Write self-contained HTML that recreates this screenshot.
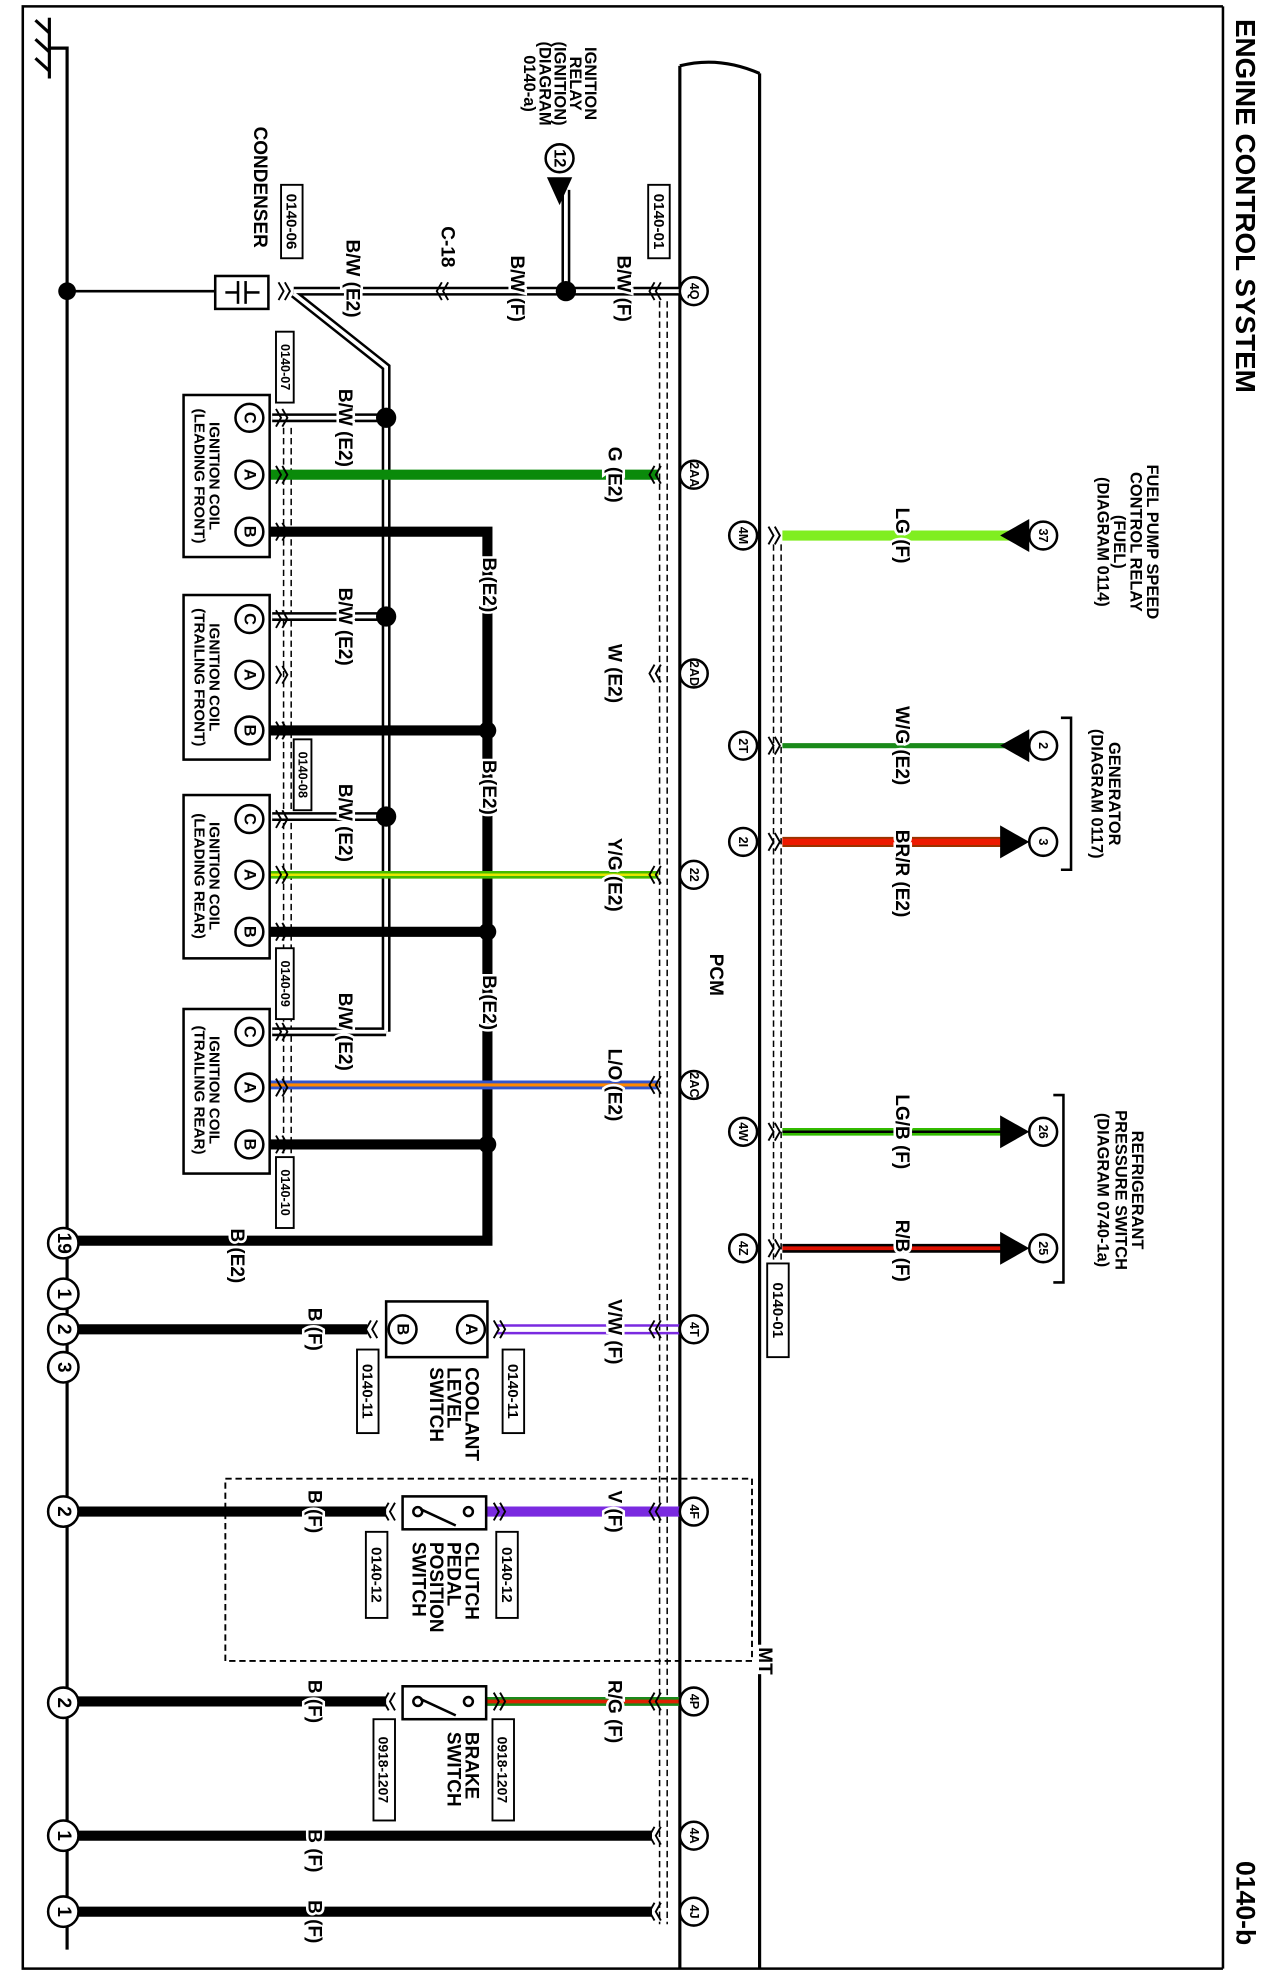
<!DOCTYPE html>
<html><head><meta charset="utf-8"><style>
html,body{margin:0;padding:0;background:#fff}
svg{display:block}
text{font-family:"Liberation Sans",Arial,sans-serif;font-weight:bold;fill:#000}
.l{font-size:15px;stroke:#fff;stroke-width:4px;paint-order:stroke}
.s{font-size:13px}
.p{font-size:10px}
</style></head><body>
<svg width="1266" height="1980" viewBox="0 0 1000 1564" preserveAspectRatio="none" xmlns="http://www.w3.org/2000/svg">
<defs>
<path id="cl" d="M5,-7 L1,0 L5,7 M10,-7 L6,0 L10,7" fill="none" stroke="#000" stroke-width="1.5"/>
<path id="cr" d="M0,-7 L4,0 L0,7 M5,-7 L9,0 L5,7" fill="none" stroke="#000" stroke-width="1.5"/>
</defs>
<!-- frame -->
<polyline points="966,5 18,5 18,1555 966,1555" fill="none" stroke="#000" stroke-width="2"/>
<line x1="966" y1="5" x2="966" y2="1555" stroke="#000" stroke-width="2"/>
<!-- ground -->
<g stroke="#000" stroke-width="2.5" fill="none">
<line x1="39" y1="14" x2="39" y2="62"/>
<polyline points="39,38 53,38 53,1540"/>
<line x1="28" y1="16" x2="39" y2="26"/><line x1="28" y1="31" x2="39" y2="41"/><line x1="28" y1="46" x2="39" y2="56"/>
</g>
<!-- PCM -->
<g stroke="#000" stroke-width="2.5" fill="none">
<path d="M537,52 Q568,44 600,58"/>
<line x1="537" y1="52" x2="537" y2="1555"/>
<line x1="600" y1="58" x2="600" y2="1555"/>
</g>
<g stroke="#000" stroke-width="1.2" stroke-dasharray="5,3" fill="none">
<line x1="521" y1="238" x2="521" y2="1520"/><line x1="527" y1="238" x2="527" y2="1520"/>
<line x1="611" y1="430" x2="611" y2="1000"/><line x1="617" y1="430" x2="617" y2="1000"/>
<line x1="224" y1="338" x2="224" y2="930"/><line x1="230" y1="338" x2="230" y2="930"/>
</g>
<text transform="translate(565,770) rotate(90)" text-anchor="middle" dominant-baseline="central" font-size="15">PCM</text>

<!-- top row -->
<line x1="53" y1="230" x2="170" y2="230" stroke="#000" stroke-width="2"/>
<circle cx="53" cy="230" r="7"/>
<rect x="170" y="218" width="42" height="26" fill="#fff" stroke="#000" stroke-width="2"/>
<g stroke="#000" stroke-width="2"><line x1="188" y1="222" x2="188" y2="240"/><line x1="194" y1="222" x2="194" y2="240"/><line x1="178" y1="231" x2="188" y2="231"/><line x1="194" y1="231" x2="205" y2="231"/></g>
<g fill="none" stroke="#000" stroke-width="7"><polyline points="232,230 540,230"/><polyline points="232,232 305,290 305,815"/>
<line x1="215" y1="330" x2="305" y2="330"/><line x1="215" y1="487" x2="305" y2="487"/><line x1="215" y1="645" x2="305" y2="645"/><line x1="215" y1="815" x2="305" y2="815"/>
<line x1="447" y1="150" x2="447" y2="230"/></g>
<g fill="none" stroke="#fff" stroke-width="3"><polyline points="232,230 540,230"/><polyline points="232,232 305,290 305,815"/>
<line x1="215" y1="330" x2="305" y2="330"/><line x1="215" y1="487" x2="305" y2="487"/><line x1="215" y1="645" x2="305" y2="645"/><line x1="215" y1="815" x2="305" y2="815"/>
<line x1="447" y1="150" x2="447" y2="226"/></g>
<circle cx="447" cy="230" r="8"/>
<circle cx="305" cy="330" r="8"/><circle cx="305" cy="487" r="8"/><circle cx="305" cy="645" r="8"/>
<polygon points="432,140 452,140 442,162"/>
<circle cx="442" cy="125" r="11" fill="#fff" stroke="#000" stroke-width="2"/>
<text transform="translate(442,125) rotate(90)" text-anchor="middle" dominant-baseline="central" class="s">12</text>

<!-- coil wires -->
<line x1="213" y1="375" x2="520" y2="375" stroke="#0a8a0a" stroke-width="8"/>
<g stroke="#000" stroke-width="8" fill="none">
<polyline points="213,420 385,420 385,980"/>
<line x1="213" y1="577" x2="385" y2="577"/><line x1="213" y1="736" x2="385" y2="736"/><line x1="213" y1="904" x2="385" y2="904"/>
<line x1="53" y1="980" x2="389" y2="980"/>
</g>
<circle cx="385" cy="577" r="7"/><circle cx="385" cy="736" r="7"/><circle cx="385" cy="904" r="7"/>
<line x1="213" y1="691" x2="520" y2="691" stroke="#44bb00" stroke-width="6"/>
<line x1="213" y1="691" x2="520" y2="691" stroke="#e6e600" stroke-width="2"/>
<line x1="213" y1="857" x2="520" y2="857" stroke="#3355cc" stroke-width="7"/>
<line x1="213" y1="857" x2="520" y2="857" stroke="#ff8800" stroke-width="2.5"/>

<!-- coil boxes -->
<g fill="#fff" stroke="#000" stroke-width="2">
<rect x="145" y="312" width="68" height="128"/><rect x="145" y="470" width="68" height="130"/>
<rect x="145" y="628" width="68" height="129"/><rect x="145" y="797" width="68" height="130"/>
</g>
<g fill="#fff" stroke="#000" stroke-width="2">
<circle cx="197" cy="330" r="11"/><circle cx="197" cy="375" r="11"/><circle cx="197" cy="420" r="11"/>
<circle cx="197" cy="489" r="11"/><circle cx="197" cy="533" r="11"/><circle cx="197" cy="577" r="11"/>
<circle cx="197" cy="647" r="11"/><circle cx="197" cy="691" r="11"/><circle cx="197" cy="736" r="11"/>
<circle cx="197" cy="815" r="11"/><circle cx="197" cy="859" r="11"/><circle cx="197" cy="904" r="11"/>
</g>
<g class="s" text-anchor="middle" dominant-baseline="central">
<text transform="translate(197,330) rotate(90)">C</text><text transform="translate(197,375) rotate(90)">A</text><text transform="translate(197,420) rotate(90)">B</text>
<text transform="translate(197,489) rotate(90)">C</text><text transform="translate(197,533) rotate(90)">A</text><text transform="translate(197,577) rotate(90)">B</text>
<text transform="translate(197,647) rotate(90)">C</text><text transform="translate(197,691) rotate(90)">A</text><text transform="translate(197,736) rotate(90)">B</text>
<text transform="translate(197,815) rotate(90)">C</text><text transform="translate(197,859) rotate(90)">A</text><text transform="translate(197,904) rotate(90)">B</text>
<text transform="translate(169,376) rotate(90)" font-size="12">IGNITION COIL</text><text transform="translate(157,376) rotate(90)" font-size="12">(LEADING FRONT)</text>
<text transform="translate(169,535) rotate(90)" font-size="12">IGNITION COIL</text><text transform="translate(157,535) rotate(90)" font-size="12">(TRAILING FRONT)</text>
<text transform="translate(169,692) rotate(90)" font-size="12">IGNITION COIL</text><text transform="translate(157,692) rotate(90)" font-size="12">(LEADING REAR)</text>
<text transform="translate(169,861) rotate(90)" font-size="12">IGNITION COIL</text><text transform="translate(157,861) rotate(90)" font-size="12">(TRAILING REAR)</text>
</g>

<!-- lower left rows -->
<g stroke="#000" stroke-width="8">
<line x1="53" y1="1050" x2="290" y2="1050"/><line x1="53" y1="1194" x2="305" y2="1194"/>
<line x1="53" y1="1344" x2="305" y2="1344"/><line x1="53" y1="1450" x2="515" y2="1450"/><line x1="53" y1="1510" x2="515" y2="1510"/>
</g>
<g stroke="#7a2ae0" stroke-width="2"><line x1="392" y1="1047" x2="540" y2="1047"/><line x1="392" y1="1053" x2="540" y2="1053"/></g>
<line x1="384" y1="1194" x2="540" y2="1194" stroke="#7a2ae0" stroke-width="8"/>
<line x1="384" y1="1344" x2="540" y2="1344" stroke="#1a8a1a" stroke-width="7"/>
<line x1="384" y1="1344" x2="540" y2="1344" stroke="#dd2200" stroke-width="3"/>
<rect x="305" y="1028" width="80" height="44" fill="#fff" stroke="#000" stroke-width="2"/>
<circle cx="318" cy="1050" r="11" fill="#fff" stroke="#000" stroke-width="2"/><circle cx="372" cy="1050" r="11" fill="#fff" stroke="#000" stroke-width="2"/>
<text transform="translate(318,1050) rotate(90)" text-anchor="middle" dominant-baseline="central" class="s">B</text>
<text transform="translate(372,1050) rotate(90)" text-anchor="middle" dominant-baseline="central" class="s">A</text>
<g fill="#fff" stroke="#000" stroke-width="2">
<rect x="318" y="1182" width="66" height="26"/><rect x="318" y="1332" width="66" height="26"/>
<circle cx="330" cy="1194" r="3.5"/><circle cx="370" cy="1194" r="3.5"/><circle cx="330" cy="1344" r="3.5"/><circle cx="370" cy="1344" r="3.5"/>
</g>
<g stroke="#000" stroke-width="2"><line x1="332" y1="1192" x2="360" y2="1205"/><line x1="332" y1="1342" x2="360" y2="1355"/></g>
<rect x="178" y="1168" width="416" height="144" fill="none" stroke="#000" stroke-width="1.5" stroke-dasharray="5,3"/>

<!-- connector chevrons -->
<g>
<use href="#cl" x="512" y="230"/><use href="#cl" x="512" y="375"/><use href="#cl" x="512" y="532"/><use href="#cl" x="512" y="691"/>
<use href="#cl" x="512" y="857"/><use href="#cl" x="512" y="1050"/><use href="#cl" x="512" y="1194"/><use href="#cl" x="512" y="1344"/>
<use href="#cl" x="512" y="1450"/><use href="#cl" x="512" y="1510"/>
<use href="#cr" x="607" y="423"/><use href="#cr" x="607" y="589"/><use href="#cr" x="607" y="665"/><use href="#cr" x="607" y="894"/><use href="#cr" x="607" y="986"/>
<use href="#cr" x="218" y="330"/><use href="#cr" x="218" y="375"/><use href="#cr" x="218" y="420"/>
<use href="#cr" x="218" y="489"/><use href="#cr" x="218" y="533"/><use href="#cr" x="218" y="577"/>
<use href="#cr" x="218" y="647"/><use href="#cr" x="218" y="691"/><use href="#cr" x="218" y="736"/>
<use href="#cr" x="218" y="815"/><use href="#cr" x="218" y="859"/><use href="#cr" x="218" y="904"/>
<use href="#cr" x="220" y="230"/><use href="#cl" x="344" y="230"/>
<use href="#cl" x="288" y="1050"/><use href="#cr" x="390" y="1050"/>
<use href="#cl" x="302" y="1194"/><use href="#cr" x="390" y="1194"/>
<use href="#cl" x="302" y="1344"/><use href="#cr" x="390" y="1344"/>
</g>

<!-- right wires -->
<line x1="618" y1="423" x2="800" y2="423" stroke="#80ee20" stroke-width="8"/>
<line x1="618" y1="589" x2="800" y2="589" stroke="#1a8a1a" stroke-width="4"/>
<line x1="618" y1="665" x2="795" y2="665" stroke="#993300" stroke-width="8"/>
<line x1="618" y1="665" x2="795" y2="665" stroke="#ee1a00" stroke-width="5"/>
<line x1="618" y1="894" x2="795" y2="894" stroke="#33bb00" stroke-width="6"/>
<line x1="618" y1="894" x2="795" y2="894" stroke="#000" stroke-width="2"/>
<line x1="618" y1="986" x2="795" y2="986" stroke="#000" stroke-width="7"/>
<line x1="618" y1="986" x2="795" y2="986" stroke="#dd1100" stroke-width="3"/>
<polygon points="790,423 813,410 813,436"/><polygon points="790,589 813,576 813,602"/>
<polygon points="813,665 790,652 790,678"/><polygon points="813,894 790,881 790,907"/><polygon points="813,986 790,973 790,999"/>
<g fill="#fff" stroke="#000" stroke-width="2">
<circle cx="824" cy="423" r="11"/><circle cx="824" cy="589" r="11"/><circle cx="824" cy="665" r="11"/><circle cx="824" cy="894" r="11"/><circle cx="824" cy="986" r="11"/>
</g>
<g class="p" text-anchor="middle" dominant-baseline="central">
<text transform="translate(824,423) rotate(90)">37</text><text transform="translate(824,589) rotate(90)">2</text><text transform="translate(824,665) rotate(90)">3</text>
<text transform="translate(824,894) rotate(90)">26</text><text transform="translate(824,986) rotate(90)">25</text>
</g>
<polyline points="838,567 846,567 846,687 838,687" fill="none" stroke="#000" stroke-width="2"/>
<polyline points="832,865 840,865 840,1013 832,1013" fill="none" stroke="#000" stroke-width="2"/>

<!-- pins -->
<g fill="#fff" stroke="#000" stroke-width="2">
<circle cx="548" cy="230" r="11"/><circle cx="548" cy="375" r="11"/><circle cx="548" cy="532" r="11"/><circle cx="548" cy="691" r="11"/>
<circle cx="548" cy="857" r="11"/><circle cx="548" cy="1050" r="11"/><circle cx="548" cy="1194" r="11"/><circle cx="548" cy="1344" r="11"/>
<circle cx="548" cy="1450" r="11"/><circle cx="548" cy="1510" r="11"/>
<circle cx="587" cy="423" r="11"/><circle cx="587" cy="589" r="11"/><circle cx="587" cy="665" r="11"/><circle cx="587" cy="894" r="11"/><circle cx="587" cy="986" r="11"/>
<circle cx="50" cy="982" r="12"/><circle cx="50" cy="1022" r="12"/><circle cx="50" cy="1050" r="12"/><circle cx="50" cy="1080" r="12"/>
<circle cx="50" cy="1194" r="12"/><circle cx="50" cy="1345" r="12"/><circle cx="50" cy="1450" r="12"/><circle cx="50" cy="1510" r="12"/>
</g>
<g class="p" text-anchor="middle" dominant-baseline="central">
<text transform="translate(548,230) rotate(90)">4Q</text><text transform="translate(548,375) rotate(90)">2AA</text><text transform="translate(548,532) rotate(90)">2AD</text>
<text transform="translate(548,691) rotate(90)">22</text><text transform="translate(548,857) rotate(90)">2AC</text><text transform="translate(548,1050) rotate(90)">4T</text>
<text transform="translate(548,1194) rotate(90)">4F</text><text transform="translate(548,1344) rotate(90)">4P</text><text transform="translate(548,1450) rotate(90)">4A</text>
<text transform="translate(548,1510) rotate(90)">4J</text>
<text transform="translate(587,423) rotate(90)">4M</text><text transform="translate(587,589) rotate(90)">2T</text><text transform="translate(587,665) rotate(90)">2I</text>
<text transform="translate(587,894) rotate(90)">4W</text><text transform="translate(587,986) rotate(90)">4Z</text>
</g>
<g font-size="15" text-anchor="middle" dominant-baseline="central">
<text transform="translate(50,982) rotate(90)">19</text><text transform="translate(50,1022) rotate(90)">1</text><text transform="translate(50,1050) rotate(90)">2</text>
<text transform="translate(50,1080) rotate(90)">3</text><text transform="translate(50,1194) rotate(90)">2</text><text transform="translate(50,1345) rotate(90)">2</text>
<text transform="translate(50,1450) rotate(90)">1</text><text transform="translate(50,1510) rotate(90)">1</text>
</g>

<!-- wire labels -->
<g class="l" text-anchor="middle" dominant-baseline="central">
<text transform="translate(492,228) rotate(90)">B/W (F)</text>
<text transform="translate(408,228) rotate(90)">B/W (F)</text>
<text transform="translate(353,195) rotate(90)">C-18</text>
<text transform="translate(278,220) rotate(90)">B/W (E2)</text>
<text transform="translate(272,338) rotate(90)">B/W (E2)</text>
<text transform="translate(272,495) rotate(90)">B/W (E2)</text>
<text transform="translate(272,650) rotate(90)">B/W (E2)</text>
<text transform="translate(272,815) rotate(90)">B/W (E2)</text>
<text transform="translate(485,375) rotate(90)">G (E2)</text>
<text transform="translate(485,532) rotate(90)">W (E2)</text>
<text transform="translate(485,691) rotate(90)">Y/G (E2)</text>
<text transform="translate(485,857) rotate(90)">L/O (E2)</text>
<text transform="translate(386,462) rotate(90)">B (E2)</text>
<text transform="translate(386,622) rotate(90)">B (E2)</text>
<text transform="translate(386,792) rotate(90)">B (E2)</text>
<text transform="translate(187,992) rotate(90)">B (E2)</text>
<text transform="translate(485,1052) rotate(90)">V/W (F)</text>
<text transform="translate(485,1194) rotate(90)">V (F)</text>
<text transform="translate(485,1352) rotate(90)">R/G (F)</text>
<text transform="translate(248,1050) rotate(90)">B (F)</text>
<text transform="translate(248,1194) rotate(90)">B (F)</text>
<text transform="translate(248,1344) rotate(90)">B (F)</text>
<text transform="translate(248,1462) rotate(90)">B (F)</text>
<text transform="translate(248,1518) rotate(90)">B (F)</text>
<text transform="translate(712,423) rotate(90)">LG (F)</text>
<text transform="translate(712,589) rotate(90)">W/G (E2)</text>
<text transform="translate(712,690) rotate(90)">BR/R (E2)</text>
<text transform="translate(712,894) rotate(90)">LG/B (F)</text>
<text transform="translate(712,988) rotate(90)">R/B (F)</text>
</g>
<text transform="translate(604,1312) rotate(90)" text-anchor="middle" dominant-baseline="central" font-size="15" style="stroke:#fff;stroke-width:6px;paint-order:stroke">MT</text>

<!-- connector ID boxes -->
<g font-size="12">
<g fill="#fff" stroke="#000" stroke-width="1.5">
<rect x="512" y="146" width="17" height="58"/><rect x="222" y="146" width="17" height="58"/><rect x="218" y="262" width="14" height="56"/>
<rect x="232" y="584" width="14" height="56"/><rect x="218" y="749" width="14" height="56"/><rect x="218" y="914" width="14" height="56"/>
<rect x="606" y="998" width="17" height="74"/>
<rect x="397" y="1066" width="17" height="66"/><rect x="282" y="1066" width="17" height="66"/>
<rect x="392" y="1210" width="17" height="68"/><rect x="289" y="1210" width="17" height="68"/>
<rect x="389" y="1358" width="17" height="80"/><rect x="295" y="1358" width="17" height="80"/>
</g>
<g text-anchor="middle" dominant-baseline="central">
<text transform="translate(520,175) rotate(90)">0140-01</text><text transform="translate(230,175) rotate(90)">0140-06</text>
<text transform="translate(225,290) rotate(90)" font-size="10">0140-07</text><text transform="translate(239,612) rotate(90)" font-size="10">0140-08</text>
<text transform="translate(225,777) rotate(90)" font-size="10">0140-09</text><text transform="translate(225,942) rotate(90)" font-size="10">0140-10</text>
<text transform="translate(614,1035) rotate(90)">0140-01</text>
<text transform="translate(405,1099) rotate(90)">0140-11</text><text transform="translate(290,1099) rotate(90)">0140-11</text>
<text transform="translate(400,1244) rotate(90)">0140-12</text><text transform="translate(297,1244) rotate(90)">0140-12</text>
<text transform="translate(397,1398) rotate(90)" font-size="11">0918-1207</text><text transform="translate(303,1398) rotate(90)" font-size="11">0918-1207</text>
</g>
</g>

<!-- component texts -->
<g font-size="15" dominant-baseline="central">
<text transform="translate(205,100) rotate(90)">CONDENSER</text>
<text transform="translate(372,1080) rotate(90)">COOLANT</text>
<text transform="translate(358,1080) rotate(90)">LEVEL</text>
<text transform="translate(344,1080) rotate(90)">SWITCH</text>
<text transform="translate(372,1218) rotate(90)">CLUTCH</text>
<text transform="translate(358,1218) rotate(90)">PEDAL</text>
<text transform="translate(344,1218) rotate(90)">POSITION</text>
<text transform="translate(330,1218) rotate(90)">SWITCH</text>
<text transform="translate(372,1368) rotate(90)">BRAKE</text>
<text transform="translate(358,1368) rotate(90)">SWITCH</text>
</g>
<g font-size="13" text-anchor="middle" dominant-baseline="central">
<text transform="translate(466,66) rotate(90)">IGNITION</text>
<text transform="translate(454,66) rotate(90)">RELAY</text>
<text transform="translate(442,66) rotate(90)">(IGNITION)</text>
<text transform="translate(430,66) rotate(90)">(DIAGRAM</text>
<text transform="translate(418,66) rotate(90)">0140-a)</text>
<text transform="translate(910,428) rotate(90)">FUEL PUMP SPEED</text>
<text transform="translate(897,428) rotate(90)">CONTROL RELAY</text>
<text transform="translate(884,428) rotate(90)">(FUEL)</text>
<text transform="translate(871,428) rotate(90)">(DIAGRAM 0114)</text>
<text transform="translate(880,627) rotate(90)">GENERATOR</text>
<text transform="translate(866,627) rotate(90)">(DIAGRAM 0117)</text>
<text transform="translate(898,940) rotate(90)">REFRIGERANT</text>
<text transform="translate(885,940) rotate(90)">PRESSURE SWITCH</text>
<text transform="translate(871,940) rotate(90)">(DIAGRAM 0740-1a)</text>
</g>
<text transform="translate(984,15) rotate(90)" font-size="22" font-weight="normal" dominant-baseline="central">ENGINE CONTROL SYSTEM</text>
<text transform="translate(984,1470) rotate(90)" font-size="21" font-weight="normal" dominant-baseline="central">0140-b</text>
</svg>
</body></html>
